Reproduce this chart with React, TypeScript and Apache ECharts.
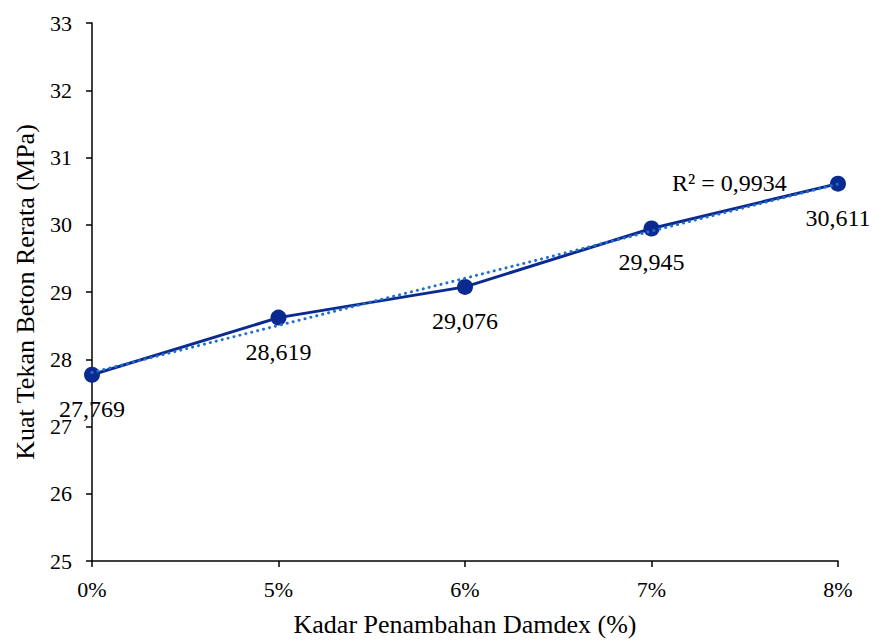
import React, { useEffect, useRef } from "react";
import * as echarts from "echarts";

const categories = ["0%", "5%", "6%", "7%", "8%"];
const strength = [27.769, 28.619, 29.076, 29.945, 30.611];
const yTicks = { min: 25, max: 33, interval: 1 };
const rSquaredLabel = "R² = 0,9934";

// Least-squares linear trend over the category index (1..n), as a spreadsheet trendline does
function linearTrend(values: number[]): number[] {
  const n = values.length;
  const xs = values.map((_, i) => i + 1);
  const mx = xs.reduce((a, b) => a + b, 0) / n;
  const my = values.reduce((a, b) => a + b, 0) / n;
  let sxy = 0;
  let sxx = 0;
  for (let i = 0; i < n; i++) {
    sxy += (xs[i] - mx) * (values[i] - my);
    sxx += (xs[i] - mx) * (xs[i] - mx);
  }
  const slope = sxy / sxx;
  const intercept = my - slope * mx;
  return xs.map((x) => intercept + slope * x);
}

const fmt = (v: number) => v.toFixed(3).replace(".", ",");
const FONT = "Liberation Serif";

export default function App() {
  const ref = useRef<HTMLDivElement>(null);

  useEffect(() => {
    if (!ref.current) return;
    const chart = echarts.init(ref.current, undefined, { renderer: "svg" });
    const trend = linearTrend(strength);

    chart.setOption({
      animation: false,
      backgroundColor: "#ffffff",
      textStyle: { fontFamily: FONT, color: "#000" },
      grid: { left: 92, right: 37, top: 23, bottom: 82 },
      xAxis: {
        type: "category",
        data: categories,
        boundaryGap: false,
        name: "Kadar Penambahan Damdex (%)",
        nameLocation: "middle",
        nameGap: 50,
        nameTextStyle: { fontFamily: FONT, fontSize: 26, color: "#000" },
        axisLine: { lineStyle: { color: "#000", width: 1.5 } },
        axisTick: { alignWithLabel: true, length: 6, lineStyle: { color: "#000", width: 1.5 } },
        axisLabel: { fontFamily: FONT, fontSize: 22, color: "#000", margin: 17 },
        splitLine: { show: false },
      },
      yAxis: {
        type: "value",
        min: yTicks.min,
        max: yTicks.max,
        interval: yTicks.interval,
        name: "Kuat Tekan Beton Rerata (MPa)",
        nameLocation: "middle",
        nameGap: 54,
        nameTextStyle: { fontFamily: FONT, fontSize: 26, color: "#000" },
        axisLine: { show: true, lineStyle: { color: "#000", width: 1.5 } },
        axisTick: { show: true, length: 6, lineStyle: { color: "#000", width: 1.5 } },
        axisLabel: { fontFamily: FONT, fontSize: 22, color: "#000", margin: 20 },
        splitLine: { show: false },
      },
      series: [
        {
          name: "Kuat Tekan",
          type: "line",
          data: strength,
          symbol: "circle",
          symbolSize: 16,
          itemStyle: { color: "#0a2a8f" },
          lineStyle: { color: "#0a2a8f", width: 3 },
          label: {
            show: true,
            position: "bottom",
            distance: 14,
            fontFamily: FONT,
            fontSize: 24,
            color: "#000",
            formatter: (p: any) => fmt(p.value),
          },
          z: 2,
        },
        {
          name: "Trend",
          type: "line",
          data: trend,
          symbol: "none",
          lineStyle: { color: "#1f6fd0", width: 3, type: [0.1, 6], cap: "round" },
          silent: true,
          z: 3,
        },
      ],
      graphic: [
        {
          type: "text",
          left: 672,
          top: 171,
          style: { text: rSquaredLabel, fontFamily: FONT, fontSize: 24, fill: "#000" },
        },
      ],
    });

    return () => chart.dispose();
  }, []);

  return (
    <div
      ref={ref}
      style={{ position: "fixed", left: 0, top: 0, width: 875, height: 643 }}
    />
  );
}
